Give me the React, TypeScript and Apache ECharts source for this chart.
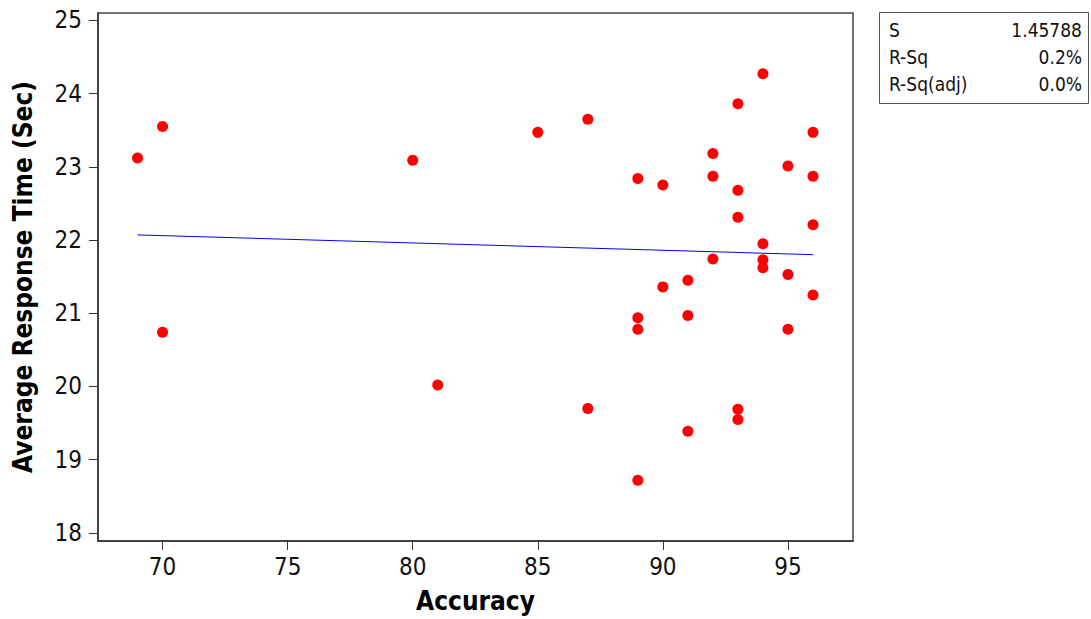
import React, { useEffect, useRef } from "react";
import * as echarts from "echarts";

const accuracy = [
  69, 70, 70, 80, 81, 85, 87, 87,
  89, 89, 89, 89, 90, 90, 91, 91, 91,
  92, 92, 92, 93, 93, 93, 93, 93,
  94, 94, 94, 94, 95, 95, 95,
  96, 96, 96, 96,
];
const responseTime = [
  23.12, 23.55, 20.74, 23.09, 20.02, 23.47, 23.65, 19.70,
  22.84, 20.94, 20.78, 18.72, 22.75, 21.36, 21.45, 20.97, 19.39,
  23.18, 22.87, 21.74, 23.86, 22.68, 22.31, 19.69, 19.55,
  24.27, 21.95, 21.73, 21.62, 23.01, 21.53, 20.78,
  23.47, 22.87, 22.21, 21.25,
];
const fitX = [69, 96];
const fitY = [22.07, 21.8];
const xTicks = [70, 75, 80, 85, 90, 95];
const yTicks = [18, 19, 20, 21, 22, 23, 24, 25];
const statLabels = ["S", "R-Sq", "R-Sq(adj)"];
const statValues = ["1.45788", "0.2%", "0.0%"];

const FONT = "'DejaVu Sans Condensed', 'DejaVu Sans', sans-serif";

export default function App() {
  const ref = useRef<HTMLDivElement>(null);
  useEffect(() => {
    if (!ref.current) return;
    const chart = echarts.init(ref.current, null, { renderer: "svg" });
    const points = accuracy.map((a, i) => [a, responseTime[i]]);
    const fit = fitX.map((x, i) => [x, fitY[i]]);
    const statGraphics: any[] = [
      {
        type: "rect",
        left: 879,
        top: 12,
        shape: { width: 209, height: 91 },
        style: { fill: "#fff", stroke: "#555", lineWidth: 1 },
      },
    ];
    statLabels.forEach((t, i) => {
      statGraphics.push({
        type: "text",
        x: 889,
        y: 30 + i * 27,
        style: {
          text: t,
          font: `19px ${FONT}`,
          fill: "#111",
          textVerticalAlign: "middle",
          textAlign: "left",
        },
      });
      statGraphics.push({
        type: "text",
        x: 1082,
        y: 30 + i * 27,
        style: {
          text: statValues[i],
          font: `19px ${FONT}`,
          fill: "#111",
          textVerticalAlign: "middle",
          textAlign: "right",
        },
      });
    });
    chart.setOption({
      animation: false,
      backgroundColor: "#fff",
      grid: {
        left: 98,
        top: 13,
        width: 755,
        height: 531,
        show: true,
        borderColor: "#444",
        borderWidth: 1.5,
        backgroundColor: "#fff",
      },
      xAxis: {
        type: "value",
        min: 67.42,
        max: 97.6,
        name: "Accuracy",
        nameLocation: "middle",
        nameGap: 47,
        nameTextStyle: { fontFamily: FONT, fontWeight: "bold", fontSize: 26, color: "#000" },
        axisLine: { onZero: false, lineStyle: { color: "#333", width: 1.5 } },
        axisTick: { show: true, length: 9, customValues: xTicks, lineStyle: { color: "#333" } },
        axisLabel: { customValues: xTicks, fontFamily: FONT, fontSize: 24, color: "#111", margin: 14 },
        splitLine: { show: false },
      },
      yAxis: {
        type: "value",
        min: 17.89,
        max: 25.1,
        name: "Average Response Time (Sec)",
        nameLocation: "middle",
        nameGap: 62,
        nameTextStyle: { fontFamily: FONT, fontWeight: "bold", fontSize: 26, color: "#000" },
        axisLine: { onZero: false, lineStyle: { color: "#333", width: 1.5 } },
        axisTick: { show: true, length: 9, customValues: yTicks, lineStyle: { color: "#333" } },
        axisLabel: { customValues: yTicks, fontFamily: FONT, fontSize: 24, color: "#111", margin: 16 },
        splitLine: { show: false },
      },
      series: [
        {
          type: "line",
          data: fit,
          symbol: "none",
          lineStyle: { color: "#0000ff", width: 1 },
          z: 1,
        },
        {
          type: "scatter",
          data: points,
          symbol: "circle",
          symbolSize: 11,
          itemStyle: { color: "#ff0000", opacity: 1 },
          z: 2,
        },
      ],
      graphic: statGraphics,
    });
    return () => chart.dispose();
  }, []);
  return (
    <div
      ref={ref}
      style={{ position: "fixed", left: 0, top: 0, width: 1091, height: 619, background: "#fff" }}
    />
  );
}
